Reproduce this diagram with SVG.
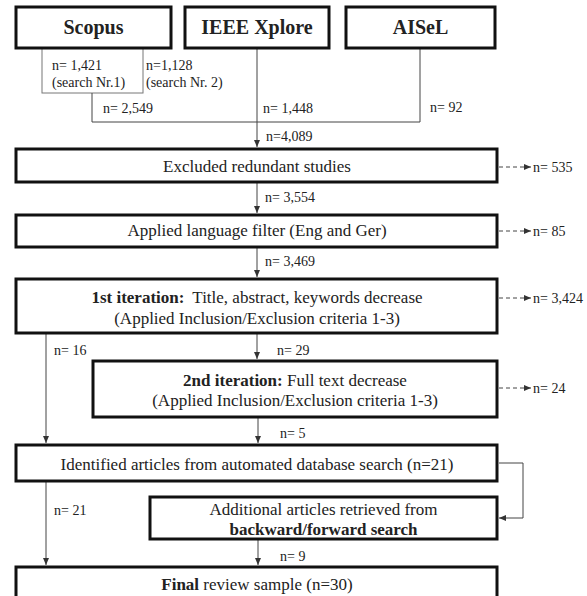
<svg xmlns="http://www.w3.org/2000/svg" width="587" height="596" viewBox="0 0 587 596">
<defs>
<marker id="ah" markerUnits="userSpaceOnUse" markerWidth="8" markerHeight="7" refX="7" refY="3" orient="auto">
<path d="M0,0 L7,3 L0,6 z" fill="#333"/>
</marker>
<style>
.box{fill:#fff;stroke:#111;stroke-width:3}
.sub{fill:none;stroke:#777;stroke-width:1}
.ln{fill:none;stroke:#444;stroke-width:1}
.dash{fill:none;stroke:#444;stroke-width:1;stroke-dasharray:4,3}
text{font-family:"Liberation Serif","Times New Roman",serif;fill:#222}
.hd{font-size:20px;font-weight:bold;text-anchor:middle}
.bt{font-size:17px;text-anchor:middle}
.lb{font-size:14px}
.b{font-weight:bold}
</style>
</defs>
<rect width="587" height="596" fill="#fff"/>
<g id="connectors">
<rect class="sub" x="42" y="48" width="101" height="45"/>
<path class="ln" d="M92,93 V122 H420"/>
<path class="ln" d="M420,48 V122"/>
<path class="ln" d="M257,48 V147" marker-end="url(#ah)"/>
<path class="ln" d="M257,182 V213" marker-end="url(#ah)"/>
<path class="ln" d="M257,247 V277" marker-end="url(#ah)"/>
<path class="ln" d="M257,333 V359" marker-end="url(#ah)"/>
<path class="ln" d="M46,333 V443" marker-end="url(#ah)"/>
<path class="ln" d="M258,417 V443" marker-end="url(#ah)"/>
<path class="ln" d="M499,463 H523 V518 H499" marker-end="url(#ah)"/>
<path class="ln" d="M46,481 V565" marker-end="url(#ah)"/>
<path class="ln" d="M258,539 V565" marker-end="url(#ah)"/>
<path class="dash" d="M499,167 H531" marker-end="url(#ah)"/>
<path class="dash" d="M499,231 H531" marker-end="url(#ah)"/>
<path class="dash" d="M499,298 H531" marker-end="url(#ah)"/>
<path class="dash" d="M499,388 H531" marker-end="url(#ah)"/>
<text class="lb" x="52" y="70">n= 1,421</text>
<text class="lb" x="52" y="87">(search Nr.1)</text>
<text class="lb" x="146" y="70">n=1,128</text>
<text class="lb" x="146" y="87">(search Nr. 2)</text>
<text class="lb" x="103" y="113">n= 2,549</text>
<text class="lb" x="263" y="113">n= 1,448</text>
<text class="lb" x="430" y="112">n= 92</text>
<text class="lb" x="266" y="141">n=4,089</text>
<text class="lb" x="265" y="202">n= 3,554</text>
<text class="lb" x="265" y="266">n= 3,469</text>
<text class="lb" x="54" y="355">n= 16</text>
<text class="lb" x="277" y="355">n= 29</text>
<text class="lb" x="280" y="438">n= 5</text>
<text class="lb" x="54" y="515">n= 21</text>
<text class="lb" x="280" y="561">n= 9</text>
<text class="lb" x="533" y="172">n= 535</text>
<text class="lb" x="533" y="236">n= 85</text>
<text class="lb" x="533" y="303">n= 3,424</text>
<text class="lb" x="533" y="393">n= 24</text>
</g>
<g id="scopus">
<rect class="box" x="16" y="7" width="155" height="41"/>
<text class="hd" x="93.5" y="34">Scopus</text>
</g>
<g id="ieee">
<rect class="box" x="185" y="7" width="144" height="41"/>
<text class="hd" x="257" y="34">IEEE Xplore</text>
</g>
<g id="aisel">
<rect class="box" x="346" y="7" width="149" height="41"/>
<text class="hd" x="420.5" y="34">AISeL</text>
</g>
<g id="excluded">
<rect class="box" x="16" y="149" width="481" height="33"/>
<text class="bt" x="257" y="172">Excluded redundant studies</text>
</g>
<g id="language">
<rect class="box" x="16" y="215" width="481" height="32"/>
<text class="bt" x="257" y="236">Applied language filter (Eng and Ger)</text>
</g>
<g id="iter1">
<rect class="box" x="16" y="279" width="481" height="54"/>
<text class="bt" x="257" y="303"><tspan class="b">1st iteration:</tspan><tspan dx="4"> Title, abstract, keywords decrease</tspan></text>
<text class="bt" x="257" y="324">(Applied Inclusion/Exclusion criteria 1-3)</text>
</g>
<g id="iter2">
<rect class="box" x="93" y="361" width="404" height="56"/>
<text class="bt" x="295" y="386"><tspan class="b">2nd iteration:</tspan> Full text decrease</text>
<text class="bt" x="295" y="406">(Applied Inclusion/Exclusion criteria 1-3)</text>
</g>
<g id="identified">
<rect class="box" x="16" y="445" width="481" height="36"/>
<text class="bt" x="257" y="470">Identified articles from automated database search (n=21)</text>
</g>
<g id="additional">
<rect class="box" x="150" y="497" width="347" height="42"/>
<text class="bt" x="323.5" y="515">Additional articles retrieved from</text>
<text class="bt b" x="323.5" y="535">backward/forward search</text>
</g>
<g id="final">
<rect class="box" x="16" y="567" width="481" height="40"/>
<text class="bt" x="257" y="590"><tspan class="b">Final</tspan> review sample (n=30)</text>
</g>
</svg>
